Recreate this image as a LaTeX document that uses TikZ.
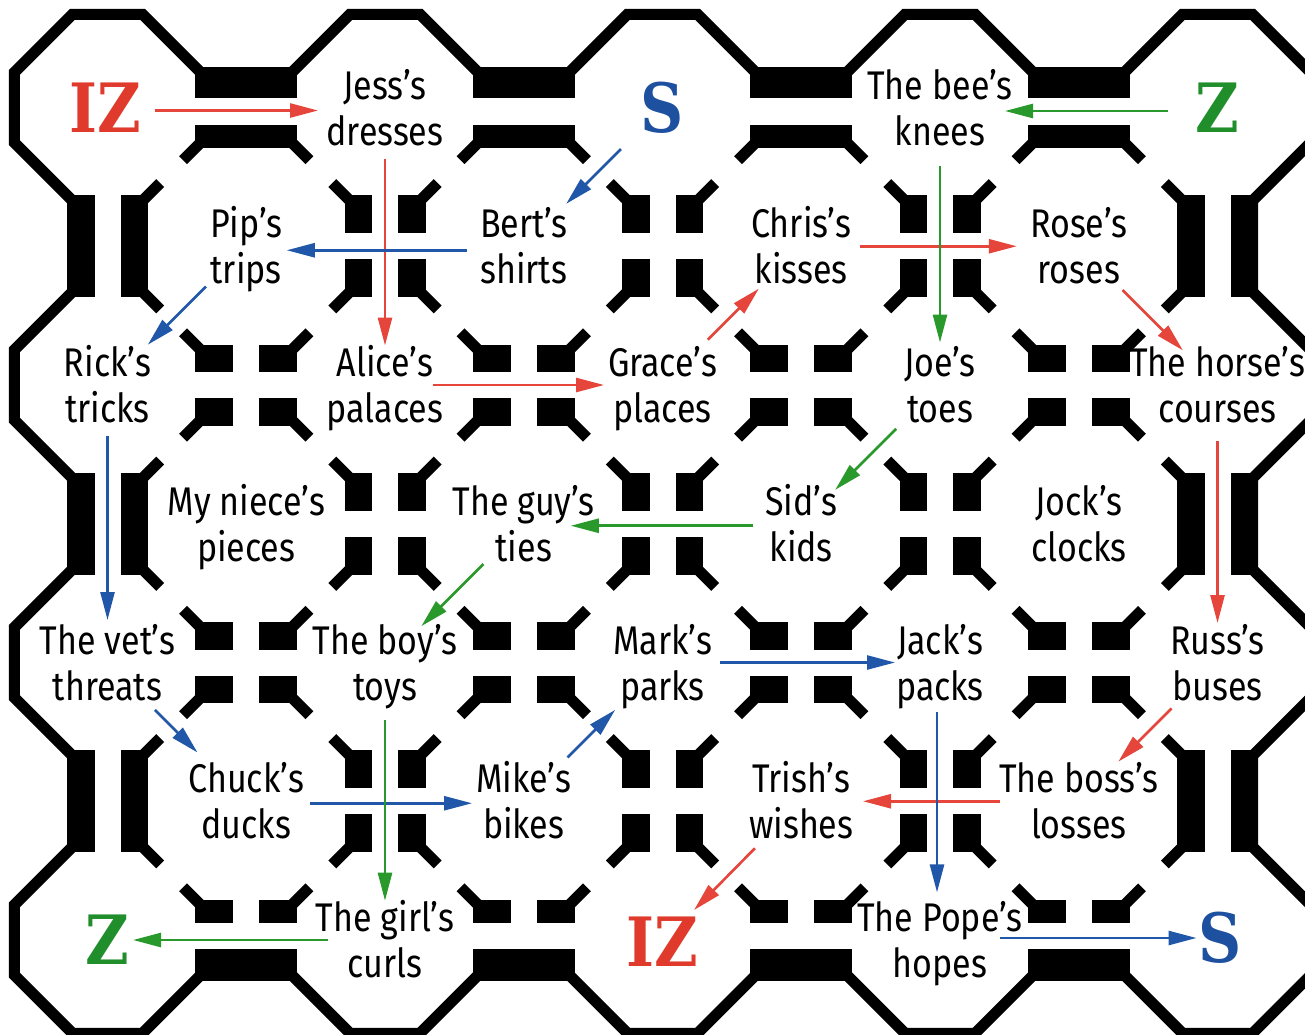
\documentclass[tikz,border=0pt]{standalone}
\usepackage{graphicx}
\usepackage{fontspec}
\setmainfont{Fira Sans}
\newfontfamily\labfont{Fira Sans}[FakeStretch=0.85]
\newfontfamily\bigfont{DejaVu Serif}
\usetikzlibrary{arrows.meta}
\definecolor{izred}{HTML}{E03A2C}
\definecolor{sblue}{HTML}{1E50A0}
\definecolor{zgreen}{HTML}{1F8E2B}
\definecolor{ared}{HTML}{E5453A}
\definecolor{ablue}{HTML}{2157A8}
\definecolor{agreen}{HTML}{2A992C}
\newcommand\twol[2]{\rule{0pt}{41pt}#1\\#2\rule[-12pt]{0pt}{12pt}}
\newcommand\bigword[1]{\scalebox{0.88}[1]{#1}}
\tikzset{
  lab/.style={font={\labfont\fontsize{40}{46}\selectfont}, align=center, inner sep=0pt},
  bigl/.style={font={\bigfont\bfseries\fontsize{68}{68}\selectfont}, inner sep=0pt},
  arr/.style={line width=2.6pt, -{Triangle[length=28pt,width=14pt]}},
  wall/.style={line width=11pt, line join=miter, line cap=butt},
  redarr/.style={arr, draw=ared, color=ared},
  bluearr/.style={arr, draw=ablue, color=ablue},
  greenarr/.style={arr, draw=agreen, color=agreen},
}
\begin{document}
\begin{tikzpicture}[x=1pt,y=-1pt]
\useasboundingbox (0,0) rectangle (1305,1034);
\fill[white] (0,0) rectangle (1305,1034);
\clip (0,0) rectangle (1305,1034);

% ---------- outer boundary ----------
\draw[wall] (14.25,142.5)
  foreach \c in {0,2,4,6,8} { -- ({107.5+138.75*\c-93.25},72.5) -- ({107.5+138.75*\c-35},14.25) -- ({107.5+138.75*\c+35},14.25) -- ({107.5+138.75*\c+93.25},72.5) }
  foreach \r in {0,2,4} { -- (1310.75,{107.5+138.75*\r+35}) -- (1252.5,{107.5+138.75*\r+93.25}) -- (1252.5,{107.5+138.75*\r+184.25}) -- (1310.75,{107.5+138.75*\r+242.5}) }
  -- (1310.75,975) -- (1252.5,1033.25) -- (1182.5,1033.25) -- (1124.25,975)
  foreach \c in {6,4,2,0} { -- ({107.5+138.75*\c+93.25},975) -- ({107.5+138.75*\c+35},1033.25) -- ({107.5+138.75*\c-35},1033.25) -- ({107.5+138.75*\c-93.25},975) }
  foreach \r in {6,4} { -- (14.25,{107.5+138.75*\r-35}) -- (72.5,{107.5+138.75*\r-93.25}) -- (72.5,{107.5+138.75*\r-184.25}) -- (14.25,{107.5+138.75*\r-242.5}) }
  -- (14.25,350) -- (72.5,291.75) -- (72.5,200.75) -- cycle;

% ---------- interior junctions, long horizontally ----------
\foreach \c in {1,3,5,7}{\foreach \r in {2,4}{
  \pgfmathsetmacro\jx{107.5+138.75*\c}
  \pgfmathsetmacro\jy{107.5+138.75*\r}
  \fill ({\jx-51},{\jy-40.5}) rectangle ({\jx-13},{\jy-13});
  \fill ({\jx+13},{\jy-40.5}) rectangle ({\jx+51},{\jy-13});
  \fill ({\jx-51},{\jy+13}) rectangle ({\jx-13},{\jy+40.5});
  \fill ({\jx+13},{\jy+13}) rectangle ({\jx+51},{\jy+40.5});
  \draw[wall] ({\jx-45.5},{\jy-35}) -- ++(-17.7,-17.7);
  \draw[wall] ({\jx+45.5},{\jy-35}) -- ++(17.7,-17.7);
  \draw[wall] ({\jx-45.5},{\jy+35}) -- ++(-17.7,17.7);
  \draw[wall] ({\jx+45.5},{\jy+35}) -- ++(17.7,17.7);
}}
% ---------- interior junctions, long vertically ----------
\foreach \c in {2,4,6}{\foreach \r in {1,3,5}{
  \pgfmathsetmacro\jx{107.5+138.75*\c}
  \pgfmathsetmacro\jy{107.5+138.75*\r}
  \fill ({\jx-40.5},{\jy-51}) rectangle ({\jx-13},{\jy-13});
  \fill ({\jx+13},{\jy-51}) rectangle ({\jx+40.5},{\jy-13});
  \fill ({\jx-40.5},{\jy+13}) rectangle ({\jx-13},{\jy+51});
  \fill ({\jx+13},{\jy+13}) rectangle ({\jx+40.5},{\jy+51});
  \draw[wall] ({\jx-35},{\jy-45.5}) -- ++(-17.7,-17.7);
  \draw[wall] ({\jx+35},{\jy-45.5}) -- ++(17.7,-17.7);
  \draw[wall] ({\jx-35},{\jy+45.5}) -- ++(-17.7,17.7);
  \draw[wall] ({\jx+35},{\jy+45.5}) -- ++(17.7,17.7);
}}
% ---------- top boundary junctions ----------
\foreach \c in {1,3,5,7}{
  \pgfmathsetmacro\jx{107.5+138.75*\c}
  \fill ({\jx-51},67) rectangle ({\jx+51},98);
  \fill ({\jx-51},125) rectangle ({\jx+51},148);
  \draw[wall] ({\jx-45.5},142.5) -- ++(-17.7,17.7);
  \draw[wall] ({\jx+45.5},142.5) -- ++(17.7,17.7);
}
% ---------- bottom boundary junctions ----------
\foreach \c in {1,3,5,7}{
  \pgfmathsetmacro\jx{107.5+138.75*\c}
  \fill ({\jx-51},899.5) rectangle ({\jx-13},923);
  \fill ({\jx+13},899.5) rectangle ({\jx+51},923);
  \fill ({\jx-51},949) rectangle ({\jx+51},980.5);
  \draw[wall] ({\jx-45.5},905) -- ++(-17.7,-17.7);
  \draw[wall] ({\jx+45.5},905) -- ++(17.7,-17.7);
}
% ---------- left and right boundary junctions ----------
\foreach \r in {1,3,5}{
  \pgfmathsetmacro\jy{107.5+138.75*\r}
  \fill (67,{\jy-51}) rectangle (94.5,{\jy+51});
  \fill (120.5,{\jy-51}) rectangle (148,{\jy+51});
  \draw[wall] (142.5,{\jy-45.5}) -- ++(17.7,-17.7);
  \draw[wall] (142.5,{\jy+45.5}) -- ++(17.7,17.7);
  \fill (1177,{\jy-51}) rectangle (1204.5,{\jy+51});
  \fill (1230.5,{\jy-51}) rectangle (1258,{\jy+51});
  \draw[wall] (1182.5,{\jy-45.5}) -- ++(-17.7,-17.7);
  \draw[wall] (1182.5,{\jy+45.5}) -- ++(-17.7,17.7);
}

% ---------- cells ----------
\node[bigl, text=izred]  (iz)    at (105,107.5) {\bigword{IZ}};
\node[lab] (jess)  at (385,107.5)  {\twol{Jess’s}{dresses}};
\node[bigl, text=sblue]  (s)     at (662.5,107.5) {\bigword{S}};
\node[lab] (bee)   at (940,107.5)  {\twol{The bee’s}{knees}};
\node[bigl, text=zgreen] (z)     at (1217.5,107.5) {\bigword{Z}};

\node[lab] (pip)   at (246.25,246.25)  {\twol{Pip’s}{trips}};
\node[lab] (bert)  at (523.75,246.25)  {\twol{Bert’s}{shirts}};
\node[lab] (chris) at (801.25,246.25)  {\twol{Chris’s}{kisses}};
\node[lab] (rose)  at (1078.75,246.25) {\twol{Rose’s}{roses}};

\node[lab] (rick)  at (107.5,385)  {\twol{Rick’s}{tricks}};
\node[lab] (alice) at (385,385)    {\twol{Alice’s}{palaces}};
\node[lab] (grace) at (662.5,385)  {\twol{Grace’s}{places}};
\node[lab] (joe)   at (940,385)    {\twol{Joe’s}{toes}};
\node[lab] (horse) at (1217.5,385) {\twol{The horse’s}{courses}};

\node[lab] (niece) at (246.25,523.75)  {\twol{My niece’s}{pieces}};
\node[lab] (guy)   at (523.75,523.75)  {\twol{The guy’s}{ties}};
\node[lab] (sid)   at (801.25,523.75)  {\twol{Sid’s}{kids}};
\node[lab] (jock)  at (1078.75,523.75) {\twol{Jock’s}{clocks}};

\node[lab] (vet)   at (107.5,662.5)  {\twol{The vet’s}{threats}};
\node[lab] (boy)   at (385,662.5)    {\twol{The boy’s}{toys}};
\node[lab] (mark)  at (662.5,662.5)  {\twol{Mark’s}{parks}};
\node[lab] (jack)  at (940,662.5)    {\twol{Jack’s}{packs}};
\node[lab] (russ)  at (1217.5,662.5) {\twol{Russ’s}{buses}};

\node[lab] (chuck) at (246.25,801.25)  {\twol{Chuck’s}{ducks}};
\node[lab] (mike)  at (523.75,801.25)  {\twol{Mike’s}{bikes}};
\node[lab] (trish) at (801.25,801.25)  {\twol{Trish’s}{wishes}};
\node[lab] (boss)  at (1078.75,801.25) {\twol{The boss’s}{losses}};

\node[bigl, text=zgreen] (z2)  at (107.5,940) {\bigword{Z}};
\node[lab] (girl)  at (385,940)  {\twol{The girl’s}{curls}};
\node[bigl, text=izred]  (iz2) at (662.5,942) {\bigword{IZ}};
\node[lab] (pope)  at (940,940)  {\twol{The Pope’s}{hopes}};
\node[bigl, text=sblue]  (s2)  at (1220,938) {\bigword{S}};

% ---------- red route ----------
\draw[redarr, shorten <=50pt, shorten >=67pt] ([yshift=-3pt]iz.center) -- ([yshift=-3pt]jess.center);
\draw[redarr, shorten <=51.5pt, shorten >=39.5pt] (jess.center) -- (alice.center);
\draw[redarr, shorten <=47.7pt, shorten >=58.5pt] (alice.center) -- (grace.center);
\draw[redarr, shorten <=64pt, shorten >=60pt] (grace.center) -- (chris.center);
\draw[redarr, shorten <=59pt, shorten >=62pt] (chris.center) -- (rose.center);
\draw[redarr, shorten <=62pt, shorten >=49pt] (rose.center) -- (horse.center);
\draw[redarr, shorten <=55.5pt, shorten >=39.5pt] (horse.center) -- (russ.center);
\draw[redarr, shorten <=65pt, shorten >=56pt] (russ.center) -- (boss.center);
\draw[redarr, shorten <=78.75pt, shorten >=61.75pt] (boss.center) -- (trish.center);
\draw[redarr, shorten <=66pt, shorten >=45pt] (trish.center) -- (iz2.center);

% ---------- blue route ----------
\draw[bluearr, shorten <=58.7pt, shorten >=60pt] (s.center) -- (bert.center);
\draw[bluearr, shorten <=56.75pt, shorten >=40.5pt] ([yshift=-4pt]bert.center) -- ([yshift=-4pt]pip.center);
\draw[bluearr, shorten <=57pt, shorten >=57pt] (pip.center) -- (rick.center);
\draw[bluearr, shorten <=50.5pt, shorten >=42.5pt] (rick.center) -- (vet.center);
\draw[bluearr, shorten <=67pt, shorten >=69pt] (vet.center) -- (chuck.center);
\draw[bluearr, shorten <=63.75pt, shorten >=51.75pt] ([yshift=-2pt]chuck.center) -- ([yshift=-2pt]mike.center);
\draw[bluearr, shorten <=62pt, shorten >=67pt] (mike.center) -- (mark.center);
\draw[bluearr, shorten <=57.5pt, shorten >=45pt] (mark.center) -- (jack.center);
\draw[bluearr, shorten <=49pt, shorten >=47.6pt] ([xshift=-3pt]jack.center) -- ([xshift=-3pt]pope.center);
\draw[bluearr, shorten <=60pt, shorten >=23.5pt] ([yshift=2pt]pope.center) -- (s2.center);

% ---------- green route ----------
\draw[greenarr, shorten <=49.5pt, shorten >=65pt] ([yshift=-3.5pt]z.center) -- ([yshift=-3.5pt]bee.center);
\draw[greenarr, shorten <=58.5pt, shorten >=42.5pt] (bee.center) -- (joe.center);
\draw[greenarr, shorten <=62pt, shorten >=48pt] (joe.center) -- (sid.center);
\draw[greenarr, shorten <=48pt, shorten >=47pt] ([yshift=-2pt]sid.center) -- ([yshift=-2pt]guy.center);
\draw[greenarr, shorten <=57pt, shorten >=51.4pt] (guy.center) -- (boy.center);
\draw[greenarr, shorten <=57.5pt, shorten >=39.3pt] (boy.center) -- (girl.center);
\draw[greenarr, shorten <=57pt, shorten >=25.5pt] (girl.center) -- (z2.center);
\end{tikzpicture}
\end{document}
